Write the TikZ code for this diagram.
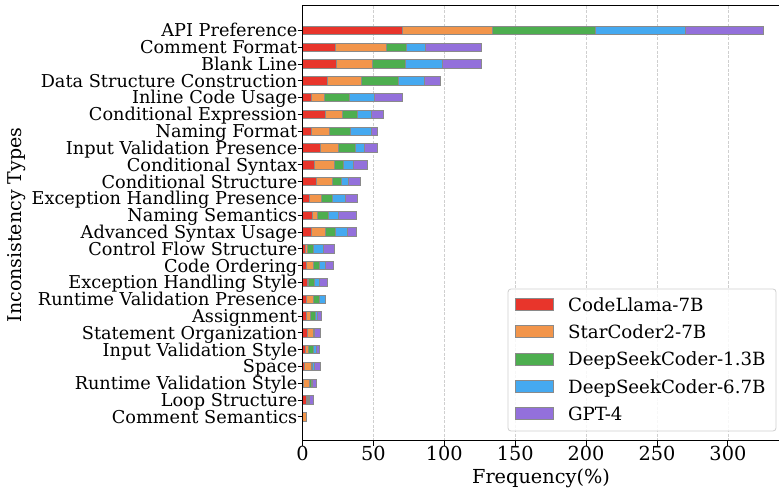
\documentclass[tikz,border=0pt]{standalone}
\usepackage{fontspec}
\setmainfont{DejaVu Serif}
\definecolor{clama}{HTML}{E8352B}
\definecolor{scoder}{HTML}{F2954B}
\definecolor{dsksmall}{HTML}{4DAE4F}
\definecolor{dsklarge}{HTML}{45A9F0}
\definecolor{gptfour}{HTML}{9370DB}
\definecolor{edgegray}{HTML}{8A8A8A}
\definecolor{gridgray}{HTML}{CFCFCF}
\begin{document}
\begin{tikzpicture}[x=1pt,y=-1pt,
  seg/.style={draw=edgegray,line width=0.9pt},
  gridline/.style={draw=gridgray,line width=0.8pt,dash pattern=on 3pt off 1.5pt},
  spine/.style={draw=black,line width=1pt},
  ticklab/.style={font=\fontsize{17.7}{17.7}\selectfont,inner sep=0pt},
  xticklab/.style={font=\fontsize{19.3}{19.3}\selectfont,inner sep=0pt},
  axlab/.style={font=\fontsize{19}{19}\selectfont,inner sep=0pt},
  legtext/.style={font=\fontsize{18.2}{18.2}\selectfont,inner sep=0pt,anchor=base west}]
\useasboundingbox (0,0) rectangle (779,492);
\def\xo{302.5}
\def\xs{1.418}
% vertical grid lines
\foreach \v in {50,100,...,300}
  \draw[gridline] ({\xo+\xs*\v},6) -- ({\xo+\xs*\v},440.7);
% stacked bars: cumulative ends of the five models
\foreach \name/\a/\b/\c/\d/\e [count=\i] in {
  API Preference/70.5/133.6/206.4/270.4/324.9,
  Comment Format /23.3/59.0/73.6/86.5/126.5,
  Blank Line/24.0/49.6/72.7/99.0/126.0,
  Data Structure Construction/17.7/41.4/68.0/86.3/97.6,
  Inline Code Usage/6.6/15.5/32.9/50.6/70.5,
  Conditional Expression/16.0/28.0/38.4/48.9/57.1,
  Naming Format/6.6/18.8/33.6/48.9/53.2,
  Input Validation Presence/13.0/25.0/37.2/43.7/53.2,
  Conditional Syntax/8.3/22.6/29.2/36.2/45.8,
  Conditional Structure/9.9/20.9/27.5/32.5/40.7,
  Exception Handling Presence/4.7/13.4/21.4/30.6/38.8,
  Naming Semantics/7.1/10.6/18.6/25.4/37.9,
  Advanced Syntax Usage/6.1/16.5/23.1/31.7/37.9,
  Control Flow Structure/2.1/3.5/7.8/15.1/22.6,
  Code Ordering/3.1/8.0/12.0/16.5/22.1,
  Exception Handling Style/3.5/4.5/8.7/11.8/17.4,
  Runtime Validation Presence/2.8/8.0/12.0/16.5/16.5,
  Assignment/2.6/5.4/9.4/10.8/13.2,
  Statement Organization/3.3/7.5/8.0/8.5/12.7,
  Input Validation Style/1.9/4.2/8.0/9.9/12.0,
  Space/1.4/6.1/7.3/8.7/12.7,
  Runtime Validation Style/0.5/4.9/6.3/7.1/9.9,
  Loop Structure/2.6/3.8/4.5/5.0/7.5,
  Comment Semantics/0/2.5/2.5/2.5/2.5}
{
  \pgfmathsetmacro\yc{30.4+(\i-1)*16.8}
  \path[seg,fill=clama]    (\xo,{\yc-4.2}) rectangle ({\xo+\xs*\a},{\yc+4.2});
  \path[seg,fill=scoder]   ({\xo+\xs*\a},{\yc-4.2}) rectangle ({\xo+\xs*\b},{\yc+4.2});
  \path[seg,fill=dsksmall] ({\xo+\xs*\b},{\yc-4.2}) rectangle ({\xo+\xs*\c},{\yc+4.2});
  \path[seg,fill=dsklarge] ({\xo+\xs*\c},{\yc-4.2}) rectangle ({\xo+\xs*\d},{\yc+4.2});
  \path[seg,fill=gptfour]  ({\xo+\xs*\d},{\yc-4.2}) rectangle ({\xo+\xs*\e},{\yc+4.2});
  \draw[line width=0.9pt] ({\xo-5},\yc) -- (\xo,\yc);
  \node[ticklab,anchor=base east] (ylab\i) at (297.5,{\yc+6.4}) {\name};
}
% axes frame (left, top, bottom)
\draw[spine] (779,6) -- (\xo,6) -- (\xo,440.7) -- (779,440.7);
% x ticks
\foreach \v in {0,50,...,300}{
  \draw[line width=0.9pt] ({\xo+\xs*\v},440.7) -- ({\xo+\xs*\v},445.5);
  \node[xticklab,anchor=base] (xt\v) at ({\xo+\xs*\v},460.5) {\v};
}
\node[xticklab,anchor=base] (xlabel) at (541,483.5) {Frequency(\%)};
\node[axlab,anchor=base,rotate=90] (ylabel) at (21,225) {Inconsistency Types};
% legend
\draw[draw=gridgray,line width=0.8pt,fill=white,fill opacity=0.85,rounded corners=3pt]
  (508,289) rectangle (776,431);
\foreach \col/\lab [count=\k] in {clama/CodeLlama-7B,scoder/StarCoder2-7B,
    dsksmall/DeepSeekCoder-1.3B,dsklarge/DeepSeekCoder-6.7B,gptfour/GPT-4}{
  \pgfmathsetmacro\ly{304.5+(\k-1)*27.3}
  \path[seg,fill=\col] (515,{\ly-6}) rectangle (553,{\ly+6});
  \node[legtext] (leg\k) at (568,{\ly+6.6}) {\lab};
}
\end{tikzpicture}
\end{document}
